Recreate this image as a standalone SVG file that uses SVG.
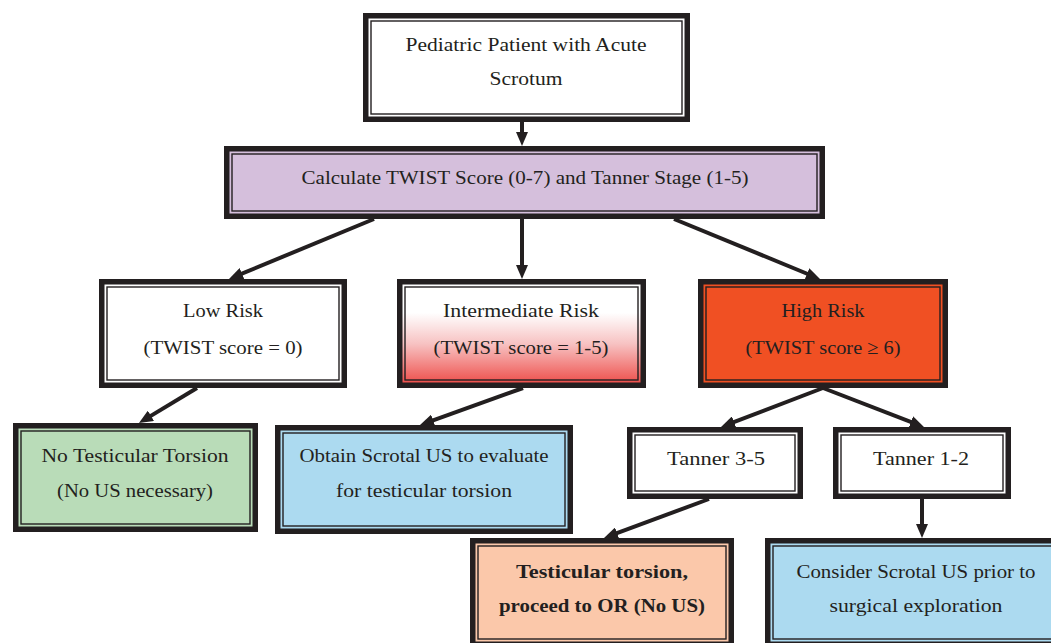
<svg xmlns="http://www.w3.org/2000/svg" width="1051" height="643" viewBox="0 0 1051 643">
<style>
.outer{stroke:#231f20;stroke-width:5.5}
.inner{fill:none;stroke:#231f20;stroke-width:1.4}
.t{font-family:"Liberation Serif","DejaVu Serif",serif;font-size:19.5px;fill:#231f20;text-anchor:middle}
.b{font-weight:bold}
.c{stroke:#231f20;stroke-width:4;fill:none}
</style>
<defs>
<linearGradient id="gInt" x1="0" y1="0" x2="0" y2="1">
<stop offset="0" stop-color="#ffffff"/>
<stop offset="0.3" stop-color="#ffffff"/>
<stop offset="0.6" stop-color="#f7c2c2"/>
<stop offset="1" stop-color="#ee4a46"/>
</linearGradient>
<marker id="ah" markerUnits="userSpaceOnUse" markerWidth="14" markerHeight="12" viewBox="0 0 14 12" refX="6" refY="6" orient="auto">
<path d="M0,0 L14,6 L0,12 z" fill="#231f20"/>
</marker>
</defs>
<rect width="1051" height="643" fill="#ffffff"/>

<g id="connectors">
<line class="c" x1="522" y1="122" x2="522" y2="138" marker-end="url(#ah)"/>
<line class="c" x1="374" y1="219" x2="236.4" y2="275.9" marker-end="url(#ah)"/>
<line class="c" x1="522" y1="219" x2="522" y2="271" marker-end="url(#ah)"/>
<line class="c" x1="674" y1="219" x2="812.6" y2="276" marker-end="url(#ah)"/>
<line class="c" x1="197" y1="388" x2="145.8" y2="418.9" marker-end="url(#ah)"/>
<line class="c" x1="523" y1="388" x2="427.5" y2="422.3" marker-end="url(#ah)"/>
<line class="c" x1="823" y1="388" x2="728.5" y2="424.1" marker-end="url(#ah)"/>
<line class="c" x1="823" y1="388" x2="916.5" y2="424.1" marker-end="url(#ah)"/>
<line class="c" x1="709" y1="499" x2="611.5" y2="535.2" marker-end="url(#ah)"/>
<line class="c" x1="922" y1="499" x2="922" y2="530" marker-end="url(#ah)"/>
</g>

<g id="n-start">
<rect class="outer" x="365.75" y="15.75" width="321.5" height="103.5" fill="#ffffff"/>
<rect class="inner" x="371" y="21" width="311" height="93"/>
<text class="t" x="526" y="51" textLength="241" lengthAdjust="spacingAndGlyphs">Pediatric Patient with Acute</text>
<text class="t" x="526" y="85" textLength="73" lengthAdjust="spacingAndGlyphs">Scrotum</text>
</g>

<g id="n-calc">
<rect class="outer" x="226.75" y="148.75" width="595.5" height="67.5" fill="#d5bfdc"/>
<rect class="inner" x="232" y="154" width="585" height="57"/>
<text class="t" x="525" y="184" textLength="447" lengthAdjust="spacingAndGlyphs">Calculate TWIST Score (0-7) and Tanner Stage (1-5)</text>
</g>

<g id="n-low">
<rect class="outer" x="101.75" y="281.75" width="242.5" height="103.5" fill="#ffffff"/>
<rect class="inner" x="107" y="287" width="232" height="93"/>
<text class="t" x="223" y="317" textLength="80" lengthAdjust="spacingAndGlyphs">Low Risk</text>
<text class="t" x="223" y="354" textLength="159" lengthAdjust="spacingAndGlyphs">(TWIST score = 0)</text>
</g>

<g id="n-int">
<rect class="outer" x="399.75" y="281.75" width="243.5" height="103.5" fill="url(#gInt)"/>
<rect class="inner" x="405" y="287" width="233" height="93"/>
<text class="t" x="521" y="317" textLength="156" lengthAdjust="spacingAndGlyphs">Intermediate Risk</text>
<text class="t" x="521" y="354" textLength="175" lengthAdjust="spacingAndGlyphs">(TWIST score = 1-5)</text>
</g>

<g id="n-high">
<rect class="outer" x="700.75" y="281.75" width="244.5" height="103.5" fill="#f05023"/>
<rect class="inner" x="706" y="287" width="234" height="93"/>
<text class="t" x="823" y="317" textLength="83" lengthAdjust="spacingAndGlyphs">High Risk</text>
<text class="t" x="823" y="354" textLength="155" lengthAdjust="spacingAndGlyphs">(TWIST score ≥ 6)</text>
</g>

<g id="n-none">
<rect class="outer" x="15.75" y="425.75" width="239.5" height="103.5" fill="#b9dcb8"/>
<rect class="inner" x="21" y="431" width="229" height="93"/>
<text class="t" x="135" y="462" textLength="187" lengthAdjust="spacingAndGlyphs">No Testicular Torsion</text>
<text class="t" x="135" y="497" textLength="156" lengthAdjust="spacingAndGlyphs">(No US necessary)</text>
</g>

<g id="n-us">
<rect class="outer" x="277.75" y="427.75" width="292.5" height="103.5" fill="#acdaf0"/>
<rect class="inner" x="283" y="433" width="282" height="93"/>
<text class="t" x="424" y="462" textLength="249" lengthAdjust="spacingAndGlyphs">Obtain Scrotal US to evaluate</text>
<text class="t" x="424" y="497" textLength="176" lengthAdjust="spacingAndGlyphs">for testicular torsion</text>
</g>

<g id="n-t35">
<rect class="outer" x="629.75" y="429.75" width="170.5" height="66.5" fill="#ffffff"/>
<rect class="inner" x="635" y="435" width="160" height="56"/>
<text class="t" x="716" y="465" textLength="98" lengthAdjust="spacingAndGlyphs">Tanner 3-5</text>
</g>

<g id="n-t12">
<rect class="outer" x="835.75" y="429.75" width="172.5" height="66.5" fill="#ffffff"/>
<rect class="inner" x="841" y="435" width="162" height="56"/>
<text class="t" x="921" y="465" textLength="96" lengthAdjust="spacingAndGlyphs">Tanner 1-2</text>
</g>

<g id="n-or">
<rect class="outer" x="472.75" y="540.75" width="258.5" height="103.5" fill="#fbc8aa"/>
<rect class="inner" x="478" y="546" width="248" height="93"/>
<text class="t b" x="602" y="578" textLength="172" lengthAdjust="spacingAndGlyphs">Testicular torsion,</text>
<text class="t b" x="602" y="612" textLength="206" lengthAdjust="spacingAndGlyphs">proceed to OR (No US)</text>
</g>

<g id="n-consider">
<rect class="outer" x="767.75" y="540.75" width="296.5" height="103.5" fill="#acdaf0"/>
<rect class="inner" x="773" y="546" width="286" height="93"/>
<text class="t" x="916" y="578" textLength="239" lengthAdjust="spacingAndGlyphs">Consider Scrotal US prior to</text>
<text class="t" x="916" y="612" textLength="173" lengthAdjust="spacingAndGlyphs">surgical exploration</text>
</g>
</svg>
